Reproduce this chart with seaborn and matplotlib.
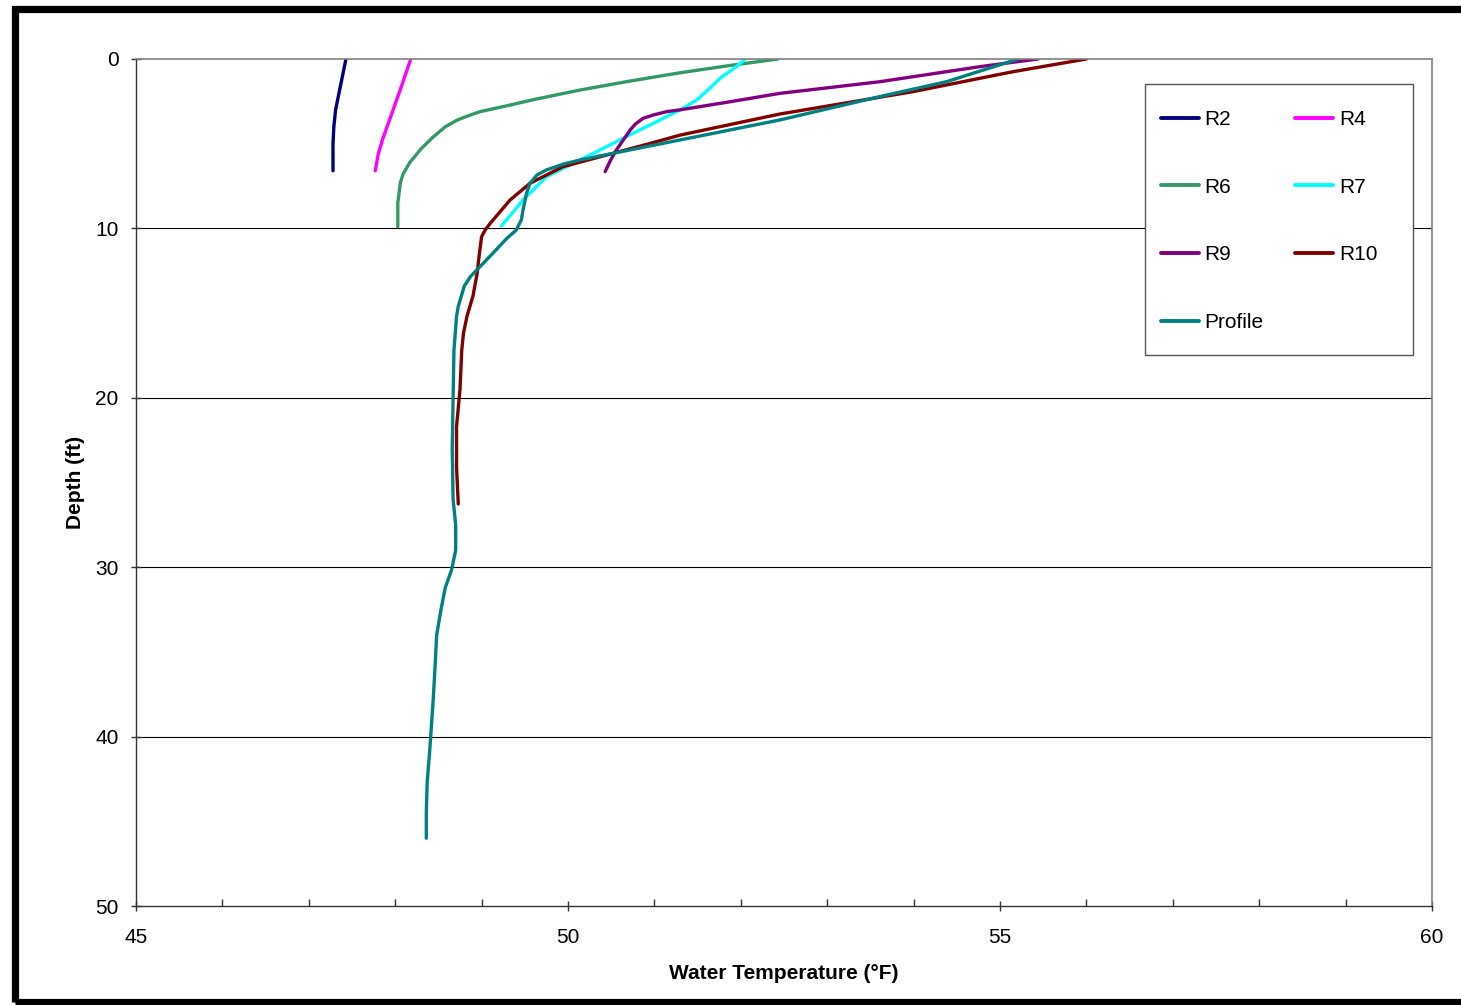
import matplotlib
matplotlib.use("Agg")
import matplotlib.pyplot as plt
from matplotlib.patches import Rectangle
from matplotlib.ticker import MultipleLocator
import seaborn as sns
import pandas as pd

# ---- data (water temperature °F vs depth ft) ----
r2_temp = [47.43, 47.39, 47.35, 47.31, 47.29, 47.28, 47.28]
r2_depth = [0, 1, 2, 3, 4, 5, 6.6]

r4_temp = [48.18, 48.08, 47.99, 47.92, 47.85, 47.80, 47.77]
r4_depth = [0, 1.5, 2.8, 3.8, 4.8, 5.7, 6.6]

r6_temp = [52.43, 51.85, 51.30, 50.72, 50.14, 49.60, 49.26, 48.98, 48.82, 48.72,
           48.58, 48.44, 48.30, 48.17, 48.09, 48.06, 48.03, 48.03]
r6_depth = [0, 0.4, 0.81, 1.3, 1.83, 2.4, 2.8, 3.11, 3.4, 3.6,
            4.0, 4.6, 5.3, 6.1, 6.8, 7.3, 8.5, 9.9]

r7_temp = [52.05, 51.95, 51.76, 51.64, 51.49, 51.30, 51.14, 50.99, 50.79, 50.60,
           50.14, 49.75, 49.48, 49.23]
r7_depth = [0, 0.45, 1.14, 1.73, 2.42, 3.0, 3.4, 3.79, 4.29, 4.78,
            5.96, 6.95, 8.32, 9.86]

r9_temp = [55.44, 54.77, 53.61, 52.45, 51.88, 51.30, 51.14, 50.99, 50.87, 50.78,
           50.72, 50.64, 50.56, 50.49, 50.43]
r9_depth = [0, 0.45, 1.34, 2.03, 2.52, 3.0, 3.11, 3.3, 3.5, 3.84,
            4.19, 4.78, 5.37, 6.0, 6.65]

r10_temp = [56.0, 55.15, 53.99, 52.45, 51.30, 50.91, 50.52, 49.94, 49.75, 49.56,
            49.33, 49.10, 49.04, 49.0, 48.97, 48.95, 48.90, 48.83, 48.79, 48.77,
            48.75, 48.71, 48.71, 48.73]
r10_depth = [0, 0.75, 1.93, 3.25, 4.49, 5.04, 5.57, 6.36, 6.85, 7.34,
             8.32, 9.7, 10.1, 10.49, 11.67, 12.6, 14.0, 15.2, 16.2, 17.2,
             19.5, 21.7, 24.07, 26.27]

profile_temp = [55.21, 54.38, 53.61, 52.45, 51.68, 50.91, 50.14, 49.95, 49.75, 49.64,
                49.56, 49.52, 49.48, 49.46, 49.40, 49.29, 49.13, 48.87, 48.80, 48.73,
                48.71, 48.68, 48.67, 48.66, 48.67, 48.70, 48.70, 48.65, 48.58, 48.53,
                48.48, 48.46, 48.44, 48.40, 48.37, 48.36, 48.36]
profile_depth = [0, 1.34, 2.22, 3.6, 4.39, 5.17, 5.96, 6.2, 6.55, 6.85,
                 7.34, 7.93, 8.9, 9.5, 10.1, 10.6, 11.47, 12.85, 13.4, 14.6,
                 15.2, 17.2, 20.1, 23.0, 26.0, 27.5, 29.0, 30.2, 31.2, 32.5,
                 34.0, 36.0, 37.8, 40.8, 42.7, 44.5, 46.0]

series_names = ["R2", "R4", "R6", "R7", "R9", "R10", "Profile"]
series_colors = ["#000080", "#FF00FF", "#339966", "#00FFFF", "#800080", "#800000", "#008080"]
x_ticks = [45, 50, 55, 60]
y_ticks = [0, 10, 20, 30, 40, 50]

temps = [r2_temp, r4_temp, r6_temp, r7_temp, r9_temp, r10_temp, profile_temp]
depths = [r2_depth, r4_depth, r6_depth, r7_depth, r9_depth, r10_depth, profile_depth]

rows = []
for name, ts, ds in zip(series_names, temps, depths):
    for i, (t, d) in enumerate(zip(ts, ds)):
        rows.append({"series": name, "order": i, "temp": t, "depth": d})
df = pd.DataFrame(rows)

# ---- style ----
sns.set_theme(style="white")
plt.rcParams["font.family"] = ["Liberation Sans", "DejaVu Sans"]
plt.rcParams["text.color"] = "black"
plt.rcParams["axes.labelcolor"] = "black"
plt.rcParams["xtick.color"] = "black"
plt.rcParams["ytick.color"] = "black"
FS = 15

fig = plt.figure(figsize=(14.61, 10.05), dpi=100)
ax = fig.add_axes([136 / 1461, 1 - 906 / 1005, (1432 - 136) / 1461, (906 - 59) / 1005])

sns.lineplot(data=df, x="temp", y="depth", hue="series", hue_order=series_names,
             palette=dict(zip(series_names, series_colors)), sort=False,
             estimator=None, linewidth=2.4, ax=ax, legend=True)
for ln in ax.lines:
    ln.set_solid_joinstyle("round")
    ln.set_solid_capstyle("round")

ax.set_xlim(45, 60)
ax.set_ylim(50, 0)
ax.set_xticks(x_ticks)
ax.xaxis.set_minor_locator(MultipleLocator(1))
ax.set_yticks(y_ticks)

for y in y_ticks[1:-1]:
    ax.axhline(y, color="black", lw=0.8, zorder=0)

for side in ["top", "right"]:
    ax.spines[side].set_color("#808080")
    ax.spines[side].set_linewidth(1.2)
for side in ["left", "bottom"]:
    ax.spines[side].set_color("#333333")
    ax.spines[side].set_linewidth(1.0)

ax.tick_params(axis="x", which="major", direction="inout", length=7, width=1,
               color="#333333", labelcolor="black", labelsize=FS, pad=12, bottom=True)
ax.tick_params(axis="x", which="minor", direction="in", length=5, width=1,
               color="#333333", bottom=True)
ax.tick_params(axis="y", which="major", direction="inout", length=7, width=1,
               color="#333333", labelcolor="black", labelsize=FS, pad=9, left=True)

ax.set_xlabel("Water Temperature (°F)", fontsize=FS, fontweight="bold", color="black")
ax.set_ylabel("Depth (ft)", fontsize=FS, fontweight="bold", color="black")
ax.xaxis.set_label_coords(0.5, -0.069)
ax.yaxis.set_label_coords(-0.039, 0.5)

# legend box (white, opaque) drawn as an axes-space rectangle
W, H = 1296.0, 847.0
ax.add_patch(Rectangle(((1145 - 136) / W, 1 - (355 - 59) / H), (1413 - 1145) / W,
                       (355 - 84) / H, transform=ax.transAxes, facecolor="white",
                       edgecolor="#555555", linewidth=1.0, zorder=4, clip_on=False))

# legend: two columns, rows R2/R4, R6/R7, R9/R10, Profile
handles, labels = ax.get_legend_handles_labels()
hmap = dict(zip(labels, handles))
order = ["R2", "R6", "R9", "Profile", "R4", "R7", "R10"]
leg = ax.legend([hmap[k] for k in order], order, ncol=2, loc="upper left",
                bbox_to_anchor=((1161 - 136) / W, 1 - (110 - 59) / H),
                borderaxespad=0, frameon=False, fontsize=FS,
                handlelength=1.8, handletextpad=0.3, columnspacing=1.5,
                labelspacing=2.34, borderpad=0.0, labelcolor="black")
leg.set_zorder(6)
for lh in leg.get_lines():
    lh.set_linewidth(2.8)

# outer black frame
fig.patches.append(Rectangle((14.5 / 1461, 1 - 1002 / 1005), 1.2, (1002 - 9.5) / 1005,
                             transform=fig.transFigure, fill=False,
                             edgecolor="black", linewidth=5.2, zorder=10))

fig.savefig("out.png", dpi=100)
